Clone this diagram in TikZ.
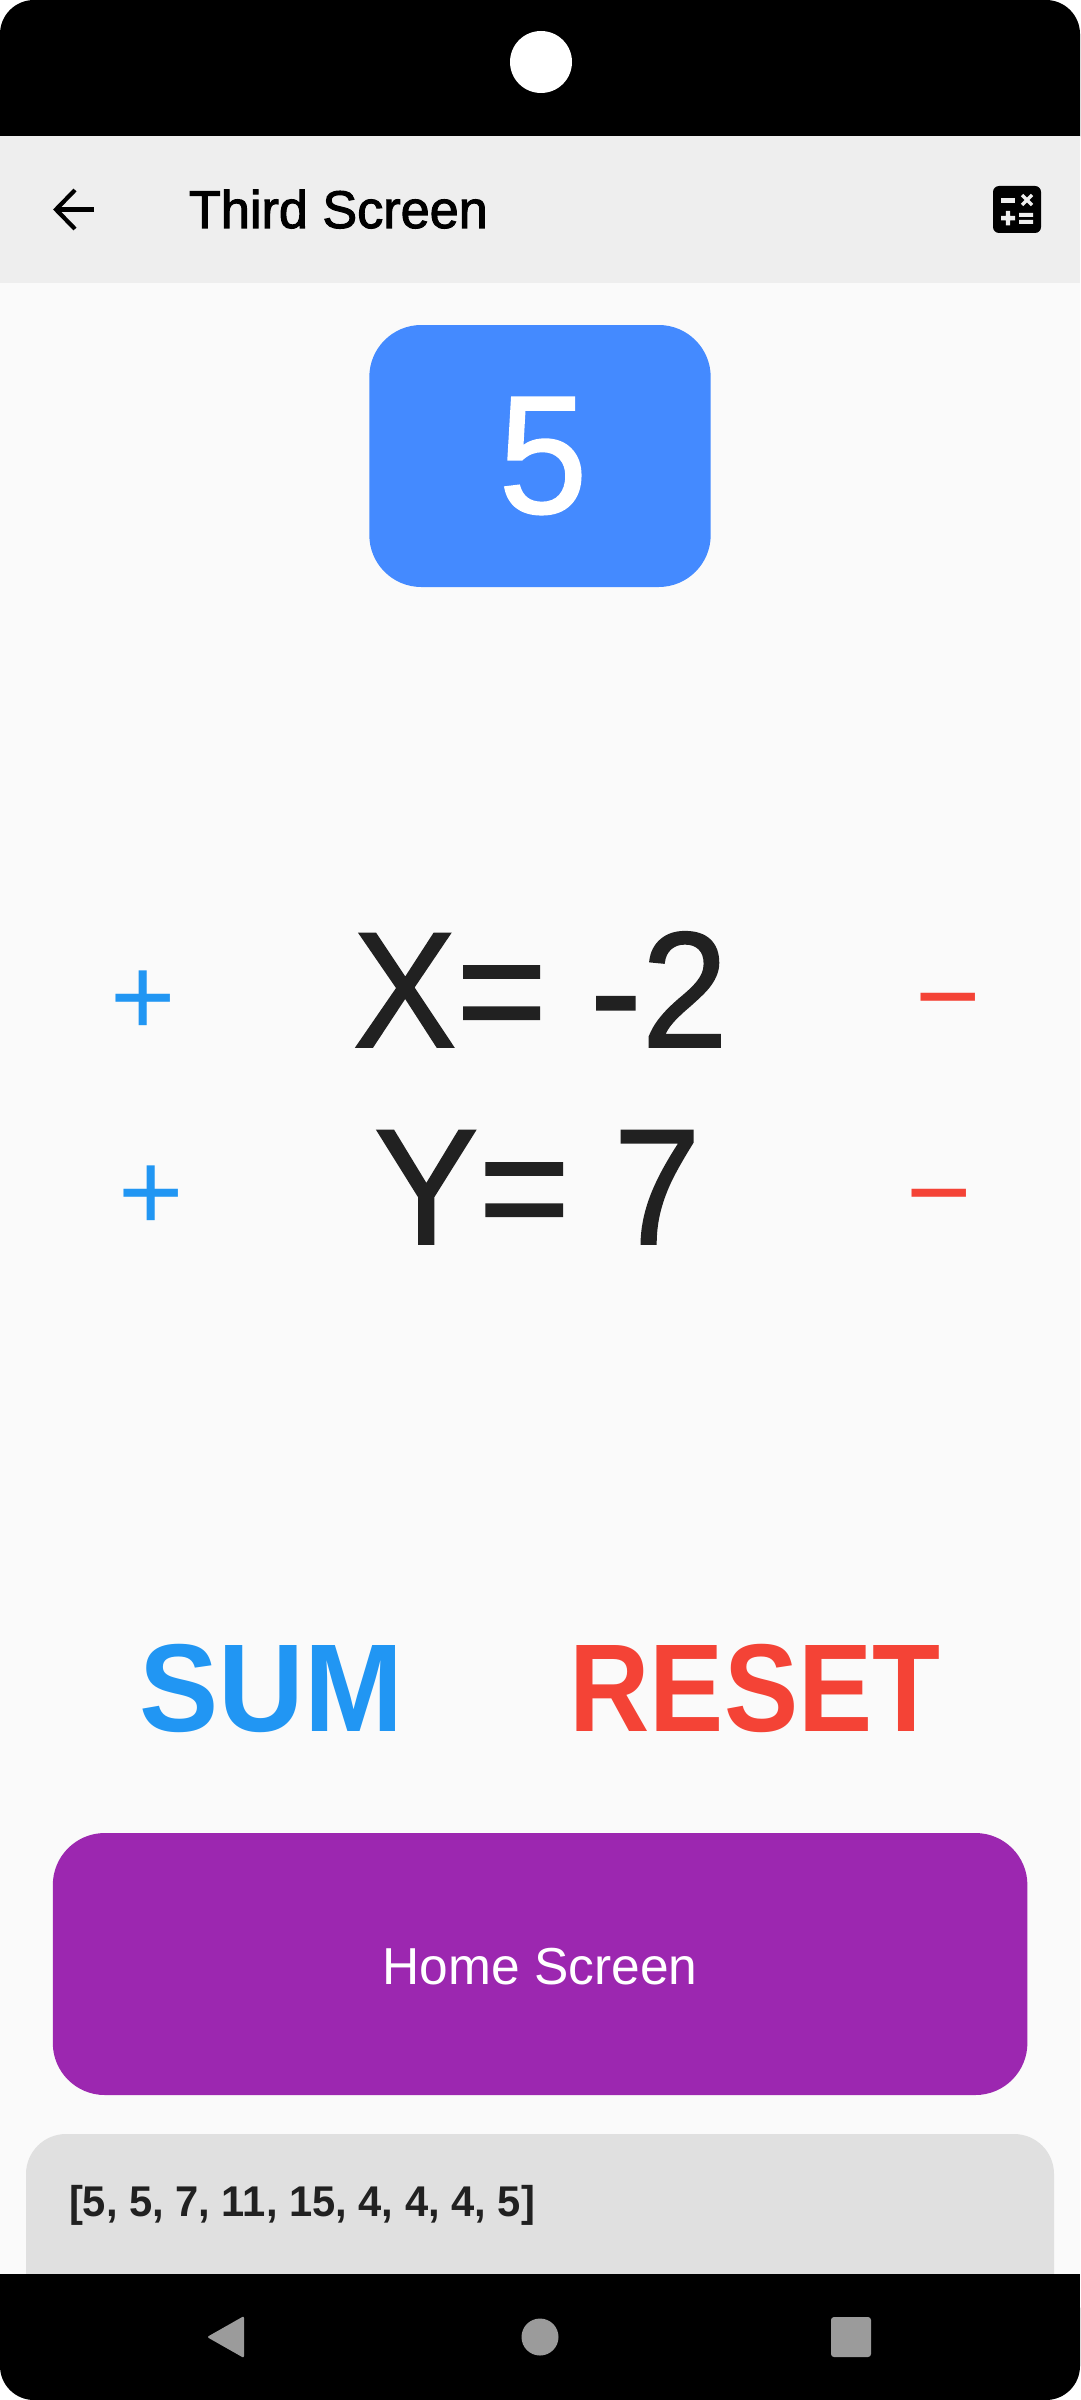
\documentclass[tikz,border=0pt]{standalone}
\usepackage{graphicx}
\usepackage{fontspec}
\setmainfont{Liberation Sans}
\newfontfamily\medfont[FakeBold=2]{Liberation Sans}
\newfontfamily\bigfont[FakeBold=1.1]{Liberation Sans}
\definecolor{barblack}{HTML}{000000}
\definecolor{appbar}{HTML}{EEEEEE}
\definecolor{body}{HTML}{FAFAFA}
\definecolor{bluebox}{HTML}{448AFF}
\definecolor{purplebox}{HTML}{9C27B0}
\definecolor{greybox}{HTML}{E0E0E0}
\definecolor{inktext}{HTML}{212121}
\definecolor{mblue}{HTML}{2196F3}
\definecolor{mred}{HTML}{F44336}
\definecolor{navgrey}{HTML}{9B9B9B}
\newcommand{\fs}[1]{\fontsize{#1}{#1}\selectfont}
\newcommand{\sx}[2]{\scalebox{#1}[1]{#2}}
\tikzset{
 txt/.style={inner sep=0pt,outer sep=0pt,anchor=base},
 txtw/.style={inner sep=0pt,outer sep=0pt,anchor=base west},
}
\begin{document}
\begin{tikzpicture}[x=1pt,y=-1pt]
\useasboundingbox (0,0) rectangle (1080,2400);
\fill[white] (0,0) rectangle (1080,2400);
\fill[body] (0,136) rectangle (1080,2274);
% top bar
\fill[barblack,rounded corners=34pt] (0,0) rectangle (1080,170);
\fill[white] (541,62) circle[radius=31];
% app bar
\fill[appbar] (0,136) rectangle (1080,283);
\coordinate (arrowtip) at (56,209.5);
\coordinate (arrowend) at (94,209.5);
\draw[black,line width=4.2pt] (arrowend) -- (arrowtip);
\draw[black,line width=4.2pt] (75,190) -- (arrowtip) -- (75,229);
\node[txtw,text=black] (title) at (189,228) {\medfont\fs{53}\sx{0.985}{Third Screen}};
% calculator icon
\fill[black,rounded corners=6pt] (993,186) rectangle (1041,233);
\fill[appbar] (1001,198) rectangle (1015,203);
\draw[appbar,line width=3.4pt] (1022,195) -- (1032,205) (1032,195) -- (1022,205);
\fill[appbar] (1001,216) rectangle (1015,220.5) (1005.8,211) rectangle (1010.2,225.5);
\fill[appbar] (1019,213) rectangle (1033,217) (1019,220) rectangle (1033,224);
% blue box
\fill[bluebox,rounded corners=52pt] (369.3,325) rectangle (710.7,587);
\node[txt,text=white] (five) at (543,513) {\bigfont\fs{168}\sx{0.95}{5}};
% X / Y rows
\node[txt,text=mblue] (plusx) at (143,1035) {\fs{112}+};
\node[txtw,text=inktext] (xval) at (353,1047) {\bigfont\fs{165}\sx{0.94}{X= -2}};
\node[txt,text=mred] (minusx) at (948,1034.5) {\fs{112}−};
\node[txt,text=mblue] (plusy) at (151.5,1230) {\fs{112}+};
\node[txtw,text=inktext] (yval) at (374,1244) {\bigfont\fs{165}\sx{0.95}{Y= 7}};
\node[txt,text=mred] (minusy) at (939.5,1230) {\fs{112}−};
% actions
\node[txt,text=mblue] (sum) at (271,1731) {\bfseries\fs{125}\sx{0.95}{SUM}};
\node[txt,text=mred] (reset) at (755,1731) {\bfseries\fs{125}\sx{0.89}{RESET}};
% home button
\fill[purplebox,rounded corners=52pt] (52.8,1833) rectangle (1027.4,2095);
\node[txt,text=white] (home) at (540,1984) {\fs{52}\sx{0.99}{Home Screen}};
% grey panel
\begin{scope}
\clip (0,0) rectangle (1080,2274);
\fill[greybox,rounded corners=40pt] (26,2134) rectangle (1054,2400);
\end{scope}
\node[txtw,text=inktext] (list) at (69,2216) {\bfseries\fs{43}\sx{0.97}{[5, 5, 7, 11, 15, 4, 4, 4, 5]}};
% bottom bar
\fill[barblack,rounded corners=34pt] (0,2274) rectangle (1080,2400);
\fill[barblack] (0,2274) rectangle (1080,2340);
\fill[navgrey,rounded corners=2pt] (207,2337) -- (244,2316) -- (244,2358) -- cycle;
\fill[navgrey] (540,2337) circle[radius=18.5];
\fill[navgrey,rounded corners=3pt] (831,2317) rectangle (871,2357);
\end{tikzpicture}
\end{document}
